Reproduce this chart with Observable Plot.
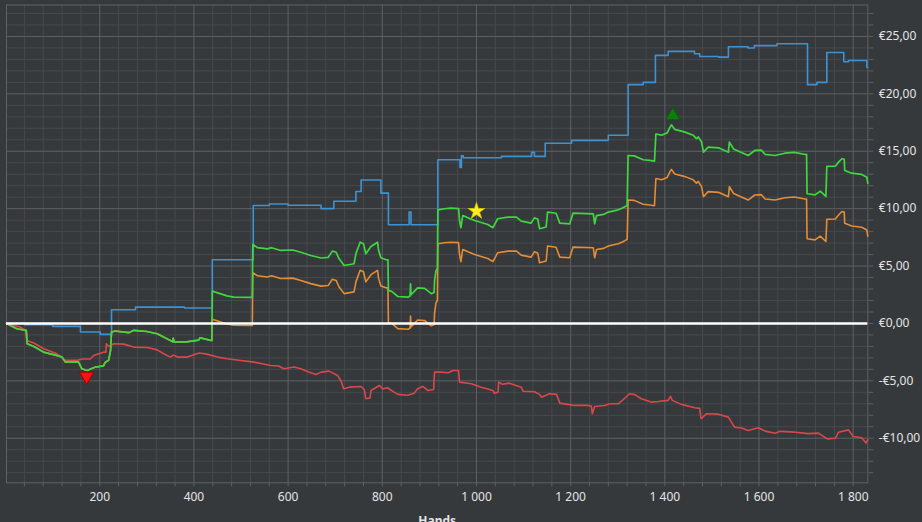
<!DOCTYPE html>
<html>
<head>
<meta charset="utf-8">
<script src="https://cdn.jsdelivr.net/npm/d3@7"></script>
<script src="https://cdn.jsdelivr.net/npm/@observablehq/plot@0.6"></script>
<style>
  html, body { margin: 0; padding: 0; background: #36393c; overflow: hidden; }
  #chart svg { display: block; }
</style>
</head>
<body>
<div id="chart"></div>
<script>
// ---------- Data ----------
const xTicks = [200, 400, 600, 800, 1000, 1200, 1400, 1600, 1800];
const xTickLabels = ["200", "400", "600", "800", "1 000", "1 200", "1 400", "1 600", "1 800"];
const yTicks = [-10, -5, 0, 5, 10, 15, 20, 25];
const yTickLabels = ["-€10,00", "-€5,00", "€0,00", "€5,00", "€10,00", "€15,00", "€20,00", "€25,00"];

// Blue (step line)
const blueHands = [2, 40, 100, 159, 201, 225, 276, 380, 439, 526, 560, 600, 670, 697, 744, 755, 797, 813, 857, 861, 918, 965, 968, 972, 1053, 1117, 1123, 1146, 1202, 1280, 1322, 1354, 1380, 1407, 1463, 1474, 1514, 1535, 1577, 1590, 1638, 1703, 1723, 1744, 1780, 1790, 1829, 1831];
const blueValues = [0, -0.1, -0.25, -0.75, -0.95, 1.2, 1.42, 1.35, 5.55, 10.28, 10.4, 10.3, 10.0, 10.65, 11.5, 12.5, 11.35, 8.6, 9.7, 8.6, 14.26, 13.6, 14.6, 14.43, 14.55, 14.9, 14.55, 15.7, 15.95, 16.4, 20.8, 21.0, 23.35, 23.7, 23.5, 23.26, 23.2, 24.1, 24.0, 24.2, 24.36, 20.8, 21.0, 23.6, 22.8, 22.9, 22.3, 22.3];

// Green
const greenHands = [2, 24, 44, 46, 60, 81, 110, 120, 127, 155, 162, 173, 191, 208, 212, 219, 223, 225, 233, 262, 272, 300, 322, 343, 355, 356, 358, 385, 410, 413, 436, 438, 439, 457, 470, 485, 524, 525, 535, 556, 565, 584, 610, 627, 648, 670, 685, 694, 702, 708, 719, 740, 744, 753, 760, 765, 776, 790, 792, 797, 808, 812, 813, 820, 833, 855, 859, 860, 861, 875, 890, 904, 910, 911, 914, 917, 918, 932, 946, 962, 964, 967, 970, 971, 982, 996, 1024, 1035, 1045, 1067, 1085, 1095, 1116, 1123, 1130, 1134, 1148, 1151, 1169, 1177, 1198, 1205, 1248, 1251, 1255, 1270, 1280, 1301, 1310, 1320, 1322, 1335, 1354, 1368, 1378, 1381, 1393, 1405, 1411, 1414, 1421, 1443, 1460, 1467, 1471, 1478, 1482, 1492, 1514, 1535, 1537, 1546, 1577, 1591, 1605, 1613, 1634, 1655, 1675, 1698, 1701, 1702, 1719, 1730, 1742, 1744, 1762, 1769, 1776, 1781, 1782, 1797, 1818, 1829, 1831];
const greenValues = [0, -0.46, -0.6, -1.77, -2.0, -2.5, -2.8, -2.93, -3.37, -3.37, -3.95, -4.1, -3.8, -3.7, -3.37, -3.2, -2.35, -0.75, -0.66, -0.8, -0.6, -0.7, -0.9, -1.34, -1.6, -1.3, -1.6, -1.6, -1.45, -1.25, -1.48, -1.48, 2.82, 2.58, 2.4, 2.3, 2.27, 6.88, 6.6, 6.5, 6.6, 6.36, 6.4, 6.2, 5.92, 5.7, 5.75, 6.3, 6.2, 5.65, 5.05, 5.2, 6.07, 7.08, 6.95, 6.07, 6.7, 7.08, 6.4, 5.72, 5.55, 5.55, 2.87, 2.8, 2.35, 2.3, 2.4, 3.45, 2.5, 3.1, 3.05, 2.6, 2.7, 3.68, 4.6, 4.8, 9.9, 9.99, 10.04, 10.0, 8.97, 8.34, 9.2, 9.4, 9.2, 8.97, 8.62, 8.34, 9.12, 9.26, 9.26, 8.91, 8.74, 9.2, 9.1, 8.25, 8.4, 9.7, 9.6, 8.74, 8.68, 9.61, 9.55, 8.68, 9.4, 9.5, 9.7, 9.9, 10.05, 10.28, 14.63, 14.6, 14.26, 14.2, 14.14, 16.5, 16.4, 16.6, 17.1, 17.3, 16.9, 16.67, 16.4, 16.1, 16.25, 15.8, 14.92, 15.36, 15.3, 14.92, 15.8, 15.2, 14.63, 15.07, 15.1, 14.72, 14.63, 14.83, 14.9, 14.72, 14.72, 11.3, 11.2, 11.52, 11.06, 13.68, 13.7, 14.05, 14.35, 14.3, 13.33, 13.09, 12.98, 12.74, 12.2];

// Orange (same hands as green)
const orangeValues = [0, -0.46, -0.6, -1.77, -2.0, -2.5, -2.8, -2.93, -3.37, -3.37, -3.95, -4.1, -3.8, -3.7, -3.37, -3.2, -2.35, -0.75, -0.66, -0.8, -0.6, -0.7, -0.9, -1.34, -1.6, -1.3, -1.6, -1.6, -1.45, -1.25, -1.48, -1.48, 0.37, 0.13, -0.05, -0.15, -0.18, 4.43, 4.15, 4.05, 4.15, 3.91, 3.95, 3.75, 3.47, 3.25, 3.3, 3.85, 3.75, 3.2, 2.6, 2.75, 3.62, 4.63, 4.5, 3.62, 4.25, 4.63, 3.95, 3.27, 3.1, 3.1, 0.07, 0.0, -0.45, -0.5, -0.4, 0.65, -0.3, 0.3, 0.25, -0.2, -0.1, 0.88, 1.8, 2.0, 6.94, 7.03, 7.08, 7.04, 6.01, 5.38, 6.24, 6.44, 6.24, 6.01, 5.66, 5.38, 6.16, 6.3, 6.3, 5.95, 5.78, 6.24, 6.14, 5.29, 5.44, 6.74, 6.64, 5.78, 5.72, 6.65, 6.59, 5.72, 6.44, 6.54, 6.74, 6.94, 7.09, 7.32, 10.75, 10.72, 10.38, 10.32, 10.26, 12.62, 12.52, 12.72, 13.22, 13.42, 13.02, 12.79, 12.52, 12.22, 12.37, 11.92, 11.04, 11.48, 11.42, 11.04, 11.92, 11.32, 10.75, 11.19, 11.22, 10.84, 10.75, 10.95, 11.02, 10.84, 10.84, 7.38, 7.28, 7.6, 7.14, 9.08, 9.1, 9.45, 9.75, 9.7, 8.73, 8.49, 8.38, 8.14, 7.6];

// Red
const redHands = [2, 31, 42, 45, 60, 81, 109, 127, 152, 162, 180, 187, 208, 213, 214, 219, 230, 251, 272, 301, 322, 336, 350, 356, 365, 386, 411, 425, 450, 471, 499, 528, 545, 563, 580, 591, 613, 627, 645, 659, 670, 687, 705, 712, 718, 730, 755, 762, 765, 774, 776, 794, 801, 811, 825, 833, 854, 868, 875, 886, 897, 909, 911, 925, 940, 950, 962, 964, 989, 1010, 1035, 1038, 1046, 1047, 1055, 1070, 1095, 1099, 1123, 1134, 1138, 1155, 1170, 1177, 1194, 1208, 1237, 1244, 1246, 1251, 1272, 1283, 1301, 1311, 1325, 1336, 1350, 1371, 1386, 1407, 1412, 1416, 1435, 1464, 1474, 1477, 1488, 1513, 1535, 1548, 1563, 1577, 1599, 1613, 1634, 1645, 1677, 1705, 1726, 1745, 1762, 1769, 1790, 1800, 1818, 1827, 1831];
const redValues = [0, -0.3, -0.6, -1.48, -1.7, -2.2, -2.64, -3.22, -3.22, -3.1, -3.1, -2.79, -2.5, -2.5, -1.77, -2.0, -1.77, -1.8, -2.06, -2.1, -2.3, -2.64, -2.93, -2.75, -2.93, -2.93, -2.58, -2.65, -2.93, -3.08, -3.22, -3.37, -3.51, -3.66, -3.7, -3.95, -3.8, -3.95, -4.24, -4.44, -4.24, -4.15, -4.53, -4.97, -5.69, -5.55, -5.49, -5.78, -6.56, -6.5, -5.84, -5.4, -5.7, -5.6, -5.98, -6.18, -6.25, -6.07, -5.69, -5.49, -5.84, -5.75, -4.24, -4.24, -4.3, -4.1, -4.1, -5.11, -5.25, -5.55, -5.84, -6.07, -6.0, -5.11, -5.3, -5.2, -5.55, -5.9, -5.95, -6.18, -6.42, -6.12, -6.18, -6.94, -7.05, -7.14, -7.14, -7.2, -7.87, -7.23, -7.14, -7.0, -7.0, -6.65, -6.12, -6.2, -6.56, -6.85, -6.8, -6.7, -6.36, -6.7, -7.05, -7.34, -7.4, -8.3, -7.87, -7.9, -8.16, -9.03, -9.1, -9.32, -9.09, -9.38, -9.56, -9.4, -9.47, -9.6, -9.55, -10.05, -10.0, -9.47, -9.27, -9.84, -9.96, -10.42, -10.13];

// Markers
const minHand = [172], minValue = [-4.6];
const starHand = [1000], starValue = [9.78];
const maxHand = [1417], maxValue = [18.1];

// ---------- Build tables ----------
const toRows = (hands, values) => hands.map((h, i) => ({hand: h, value: values[i]}));
const blue = toRows(blueHands, blueValues);
const green = toRows(greenHands, greenValues);
const orange = toRows(greenHands, orangeValues);
const red = toRows(redHands, redValues);

const minorX = d3.range(40, 1831, 40).filter(d => d % 200 !== 0);
const minorY = d3.range(-13, 28, 1).filter(d => d % 5 !== 0);
const allTickY = d3.range(-13, 28, 1);

const C = {
  bg: "#36393c",
  minor: "#46494d",
  major: "#5d6064",
  text: "#e4e4e4",
  blue: "#3f92d2",
  green: "#3fd63f",
  orange: "#e58c35",
  red: "#d9474b"
};

const chart = Plot.plot({
  width: 922,
  height: 522,
  marginLeft: 6,
  marginRight: 54.7,
  marginTop: 4.5,
  marginBottom: 39.7,
  x: {domain: [2, 1831]},
  y: {domain: [-13.88, 27.74]},
  style: {background: C.bg, fontFamily: "'Noto Sans', sans-serif", fontSize: "12px", color: C.text},
  marks: [
    Plot.ruleX(minorX, {stroke: C.minor, strokeWidth: 1}),
    Plot.ruleY(minorY, {stroke: C.minor, strokeWidth: 1}),
    Plot.ruleX(xTicks, {stroke: C.major, strokeWidth: 1}),
    Plot.ruleY(yTicks, {stroke: C.major, strokeWidth: 1}),
    Plot.frame({stroke: C.major, strokeWidth: 1}),
    // outer tick marks
    Plot.axisX(d3.range(40, 1831, 40), {tickSize: 4, tickFormat: () => "", stroke: C.major, label: null}),
    Plot.axisY(allTickY, {anchor: "right", tickSize: 5, tickFormat: () => "", stroke: C.major, label: null}),
    // tick labels
    Plot.axisX(xTicks, {tickSize: 0, tickPadding: 10, tickFormat: d => xTickLabels[xTicks.indexOf(d)], fill: C.text, label: null}),
    Plot.axisY(yTicks, {anchor: "right", tickSize: 0, tickPadding: 11, tickFormat: d => yTickLabels[yTicks.indexOf(d)], fill: C.text, label: null}),
    Plot.text(["Hands"], {frameAnchor: "bottom", lineAnchor: "top", dy: 34, text: d => d, fill: C.text, fontWeight: "bold", fontSize: 12}),
    // series
    Plot.line(blue, {x: "hand", y: "value", stroke: C.blue, strokeWidth: 1.6, curve: "step-after"}),
    Plot.line(orange, {x: "hand", y: "value", stroke: C.orange, strokeWidth: 1.6}),
    Plot.line(red, {x: "hand", y: "value", stroke: C.red, strokeWidth: 1.6}),
    Plot.line(green, {x: "hand", y: "value", stroke: C.green, strokeWidth: 1.7}),
    Plot.ruleY([0], {stroke: "#ffffff", strokeWidth: 2.5}),
    // markers
    Plot.dot(toRows(minHand, minValue), {x: "hand", y: "value", symbol: "triangle", rotate: 180, r: 5.3, fill: "#ff1010", stroke: "#a00000", strokeWidth: 1}),
    Plot.dot(toRows(starHand, starValue), {x: "hand", y: "value", symbol: "star", r: 5.2, fill: "#ffee22", stroke: "#d8c400", strokeWidth: 0.8}),
    Plot.dot(toRows(maxHand, maxValue), {x: "hand", y: "value", symbol: "triangle", r: 5.3, fill: "#0d7d0d", stroke: "#075a07", strokeWidth: 1})
  ]
});
document.getElementById("chart").appendChild(chart);
</script>
</body>
</html>
